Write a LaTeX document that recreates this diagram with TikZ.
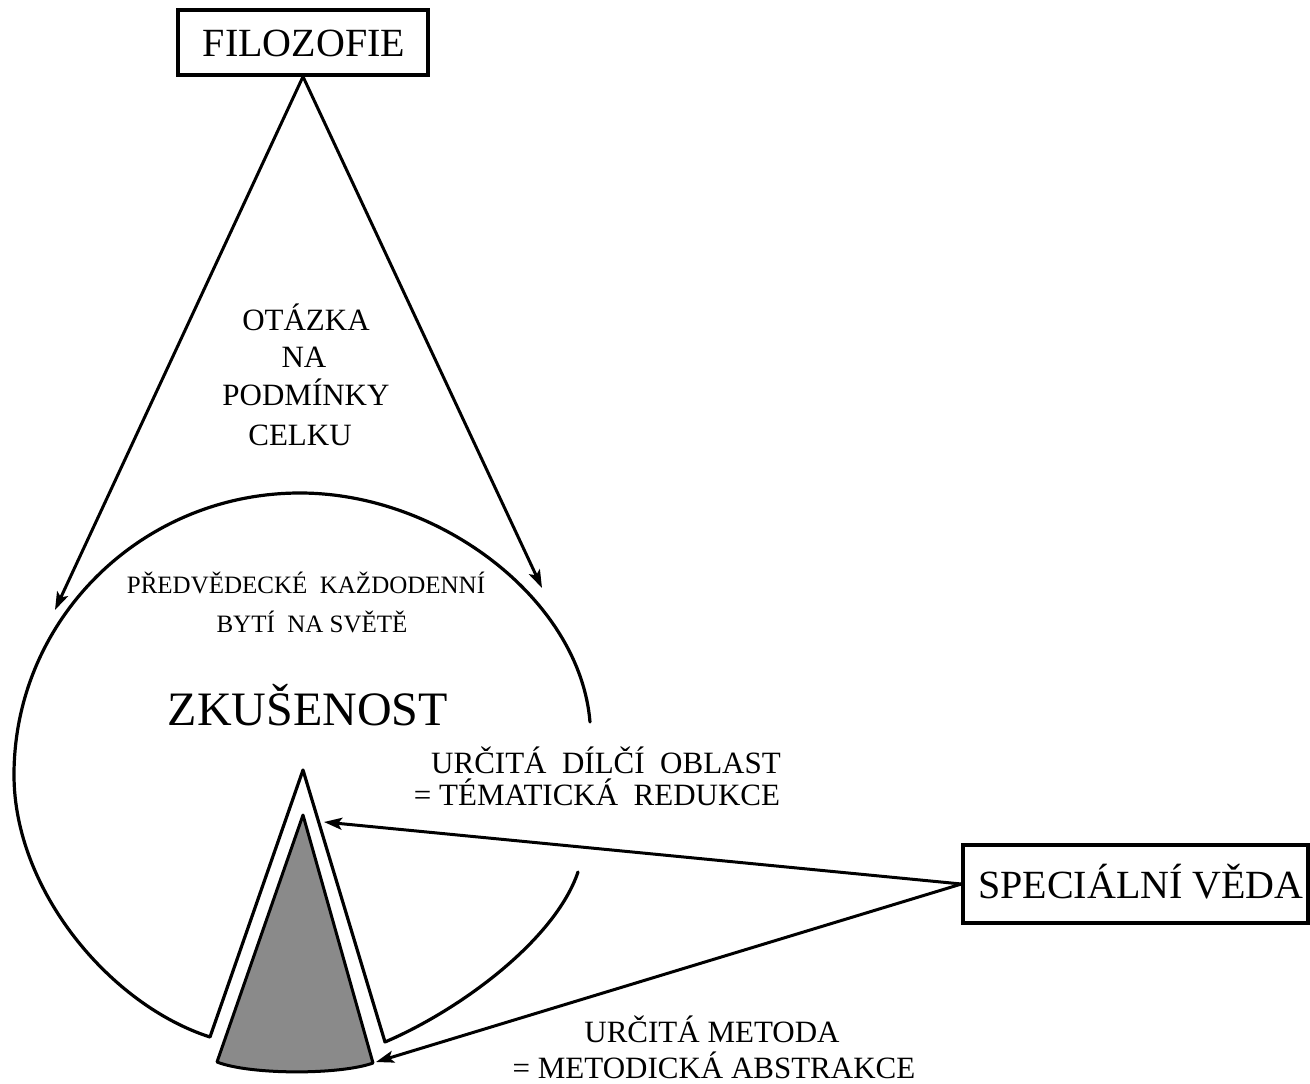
\documentclass[tikz,border=0pt]{standalone}
\usepackage{fontspec}
\setmainfont{Liberation Serif}
\usetikzlibrary{arrows.meta}
\definecolor{conegray}{RGB}{138,138,138}
\begin{document}
\begin{tikzpicture}[x=1pt,y=-1pt,
  outline/.style={line width=3.2pt, line join=round, line cap=round},
  arr/.style={line width=3pt, -{Stealth[length=18pt,width=12pt,inset=4pt]}},
  box/.style={draw, line width=3.2pt, inner sep=0pt},
  lbl/.style={inner sep=0pt, anchor=base},
  f48/.style={font=\fontsize{48}{56}\selectfont},
  f40/.style={font=\fontsize{40}{48}\selectfont},
  f31/.style={font=\fontsize{31}{37}\selectfont},
  f25/.style={font=\fontsize{25}{30}\selectfont},
]
\useasboundingbox (0,0) rectangle (1310,1084);

% boxes
\node[box, minimum width=250pt, minimum height=65pt] (filo) at (303,42.5) {};
\node[lbl,f40] (filot) at (304,56) {FILOZOFIE};
\node[box, minimum width=345pt, minimum height=78pt] (spec) at (1135.5,884) {};
\node[lbl,f40] (spect) at (1141,898) {SPECIÁLNÍ VĚDA};

% experience outline (circle with notch)
\draw[outline] (590,722) .. controls (580,600) and (440,493) .. (300,493)
  .. controls (142,493) and (14,619) .. (14,775)
  .. controls (14,890) and (110,1005) .. (210,1037)
  -- (303,770) -- (385,1042)
  .. controls (460,1010) and (555,940) .. (578,872);

% grey cone
\draw[line width=3pt, line join=round, fill=conegray] (217,1062) -- (303,815) -- (373,1063) .. controls (340,1075) and (250,1075) .. cycle;

% arrows
\coordinate (a1) at (55,610);
\coordinate (a2) at (542,588);
\coordinate (b1) at (324,822);
\coordinate (b2) at (376,1062);
\draw[arr] (filo.south) -- (a1);
\draw[arr] (filo.south) -- (a2);
\draw[arr] (spec.west) -- (b1);
\draw[arr] (spec.west) -- (b2);

% texts
\node[lbl,f31] (q1) at (306,330) {OTÁZKA};
\node[lbl,f31] (q2) at (304,367) {NA};
\node[lbl,f31] (q3) at (306,405) {PODMÍNKY};
\node[lbl,f31] (q4) at (300,445) {CELKU};
\node[lbl,f25] (p1) at (306,593) {PŘEDVĚDECKÉ~~KAŽDODENNÍ};
\node[lbl,f25] (p2) at (312,632) {BYTÍ~~NA SVĚTĚ};
\node[lbl,f48] (zk) at (308,725) {ZKUŠENOST};
\node[lbl,f31] (u1) at (606,773) {URČITÁ~~DÍLČÍ~~OBLAST};
\node[lbl,f31] (u2) at (597,805) {= TÉMATICKÁ~~REDUKCE};
\node[lbl,f31] (m1) at (712,1042) {URČITÁ METODA};
\node[lbl,f31] (m2) at (714,1078) {= METODICKÁ ABSTRAKCE};
\end{tikzpicture}
\end{document}
